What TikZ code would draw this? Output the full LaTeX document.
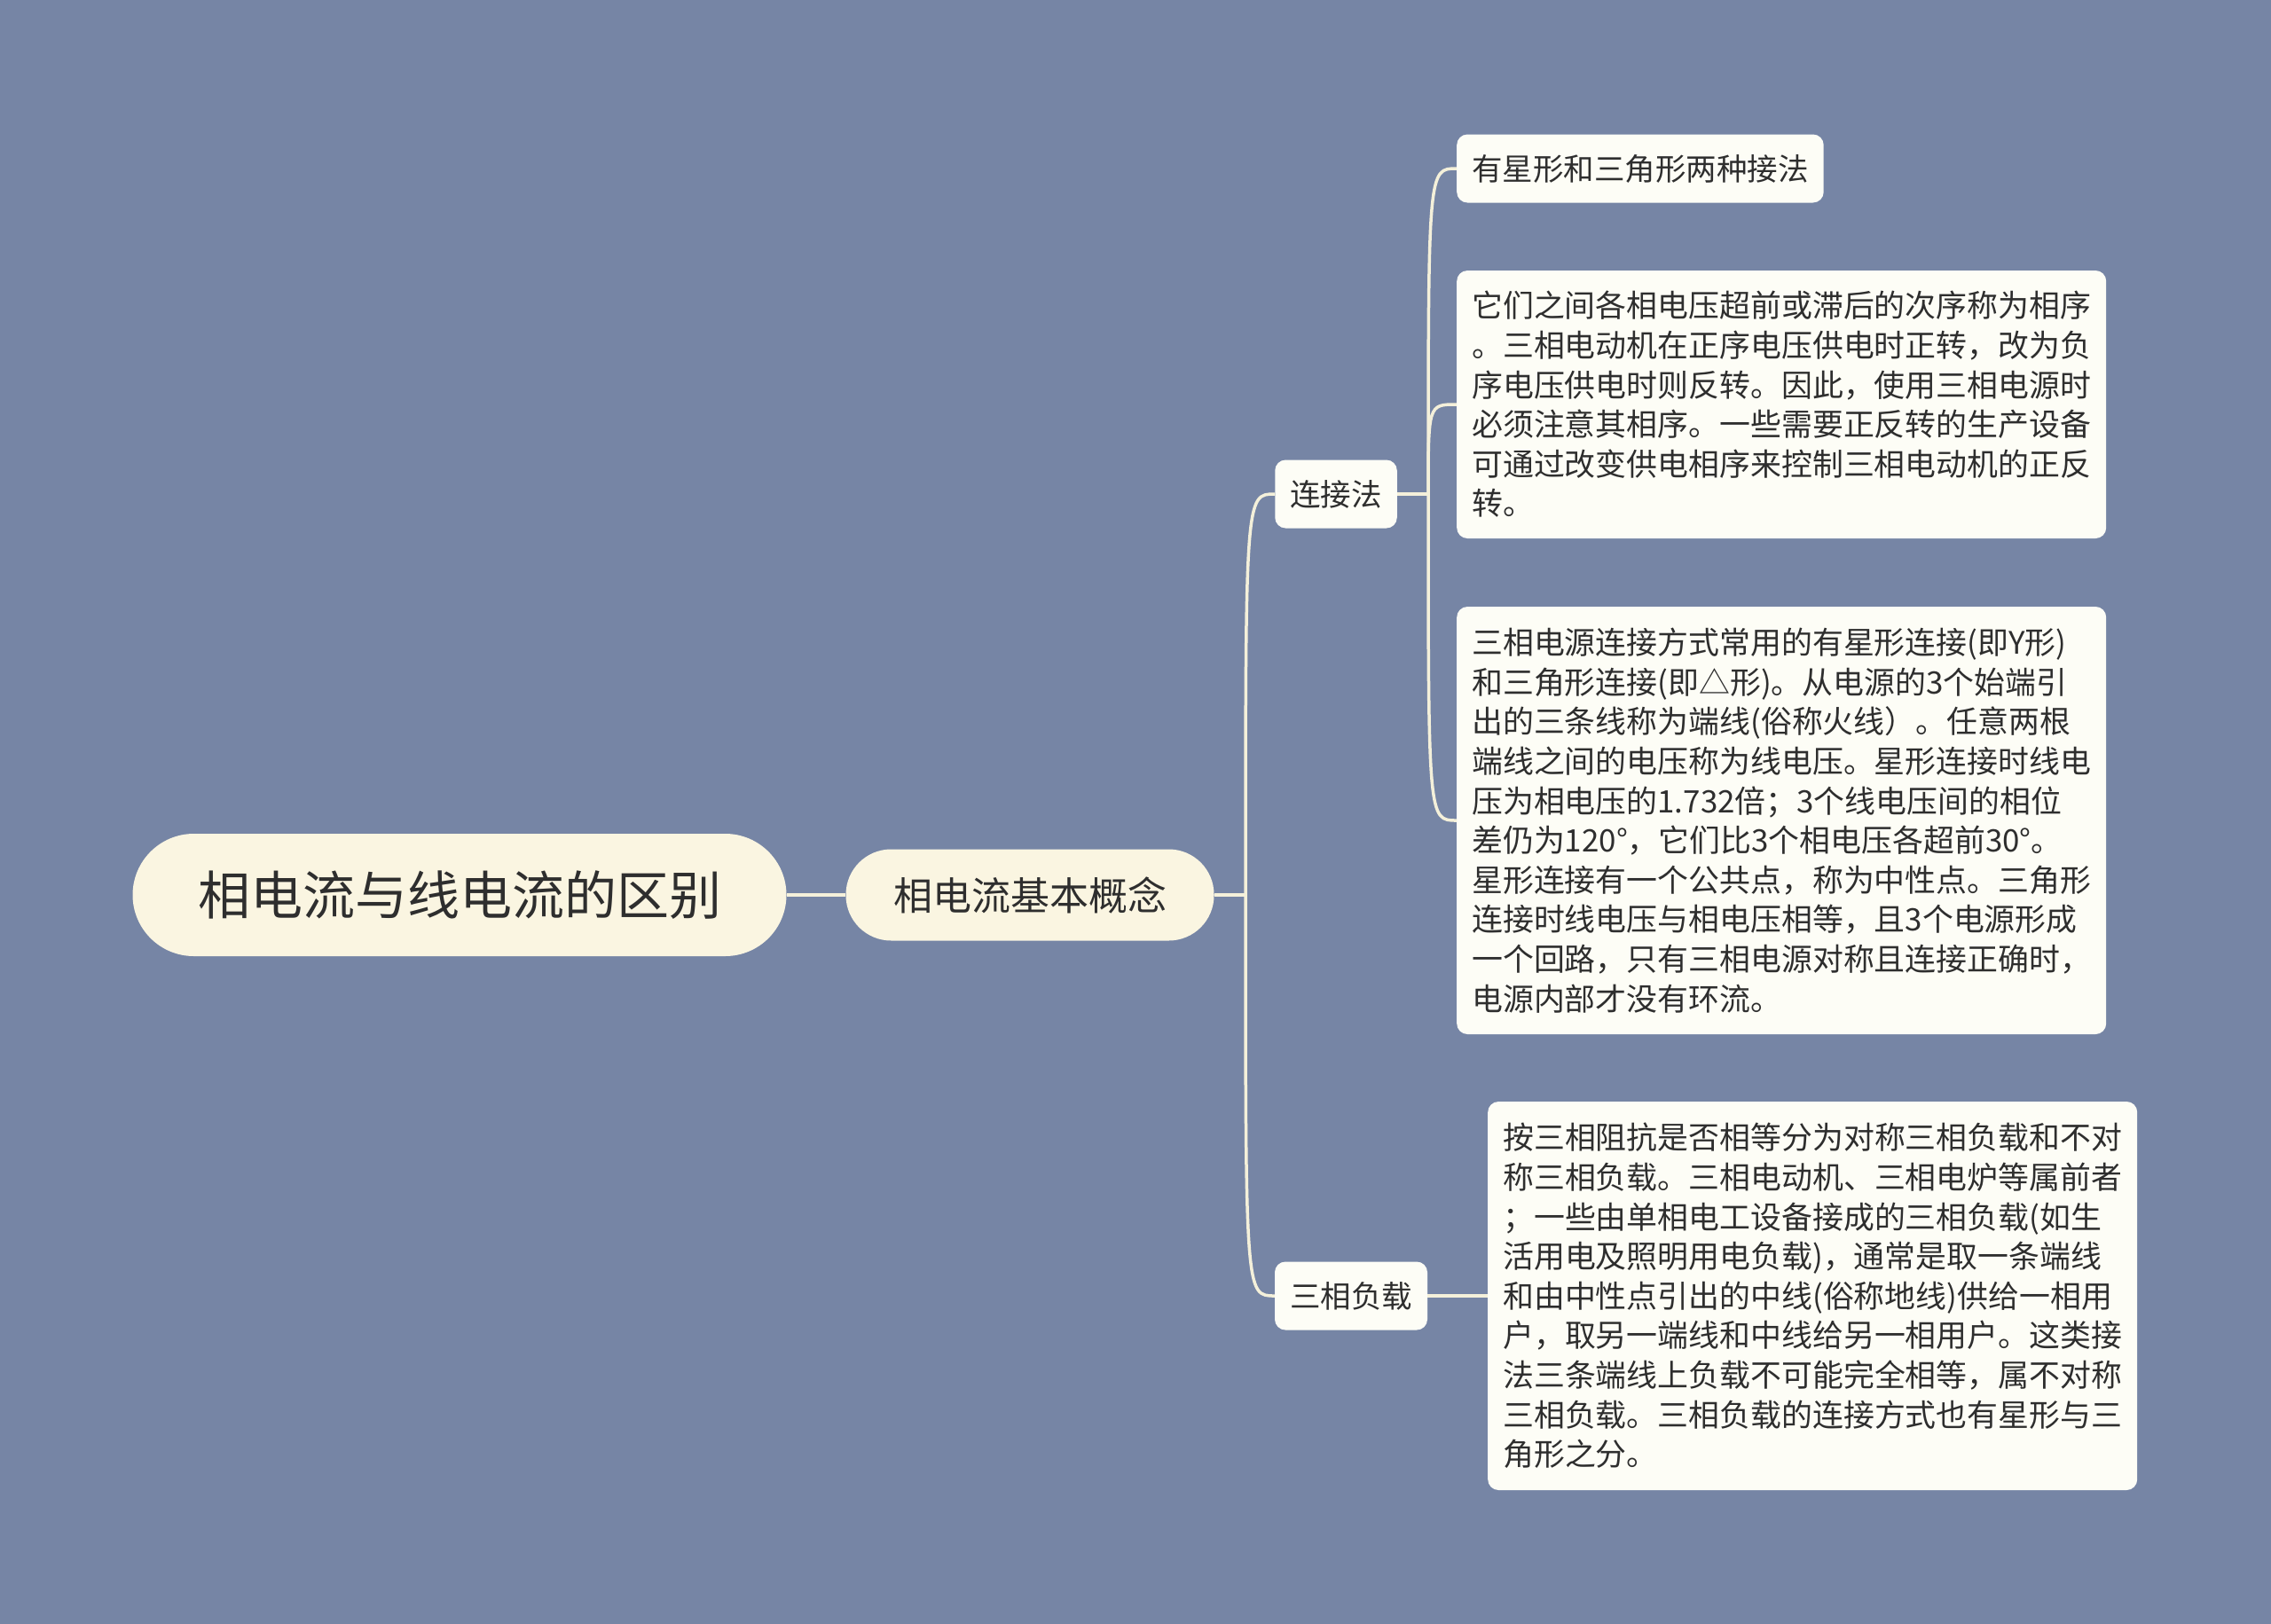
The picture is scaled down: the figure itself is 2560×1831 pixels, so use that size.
\documentclass[tikz,border=0pt]{standalone}
\usepackage{fontspec}
\setmainfont{Noto Sans CJK SC}
\usepackage{xcolor}
\definecolor{mapbg}{HTML}{7685A5}
\definecolor{mapcream}{HTML}{FAF5E1}
\definecolor{mapleaf}{HTML}{FDFDF6}
\definecolor{mapline}{HTML}{F4F0DA}
\definecolor{maptext}{HTML}{2E2E2E}
\tikzset{
	every node/.style={
		align=center,
		text=maptext,
	},
	root-node/.style={
		rectangle,
		rounded corners=69pt,
		fill=mapcream,
		minimum width=737pt,
		minimum height=138pt,
		font=\fontsize{59}{70}\selectfont,
	},
	topic-node/.style={
		rectangle,
		rounded corners=51pt,
		fill=mapcream,
		minimum width=415pt,
		minimum height=103pt,
		font=\fontsize{44}{52}\selectfont,
	},
	sub-node/.style={
		rectangle,
		rounded corners=12pt,
		fill=mapleaf,
		inner xsep=17pt,
		minimum height=77pt,
		font=\fontsize{34.5}{44.6}\selectfont,
	},
	leaf-node/.style={
		sub-node,
		anchor=west,
		align=left,
		inner ysep=0pt,
	},
	leaf-wide/.style={
		leaf-node,
		text width=698pt,
		font=\fontsize{34.9}{44.6}\selectfont,
	},
	edge-style/.style={draw=mapline, line width=3.5pt},
}
\begin{document}
\begin{tikzpicture}[x=1pt,y=-1pt]
	\fill[mapbg] (0,0) rectangle (2560,1831);
	\node (root) [root-node] at (518,1009) {相电流与线电流的区别};
	\node (basic) [topic-node] at (1161,1009) {相电流基本概念};
	\node (conn) [sub-node] at (1506,557) {连接法};
	\node (load) [sub-node] at (1523,1461) {三相负载};
	\node (way) [leaf-node] at (1642,190) {有星形和三角形两种接法};
	\node (seq) [leaf-wide, minimum height=302pt] at (1642,456) {它们之间各相电压超前或滞后的次序称为相序\\。三相电动机在正序电压供电时正转，改为负\\序电压供电时则反转。因此，使用三相电源时\\必须注意其相序。一些需要正反转的生产设备\\可通过改变供电相序来控制三相电动机的正反\\转。};
	\node (src) [leaf-wide, minimum height=482pt] at (1642,925) {三相电源连接方式常用的有星形连接(即Y形)\\和三角形连接(即△形)。从电源的3个始端引\\出的三条线称为端线(俗称火线）。任意两根\\端线之间的电压称为线电压。星形连接时线电\\压为相电压的1.732倍；3个线电压间的相位\\差仍为120°，它们比3个相电压各超前30°。\\星形连接有一个公共点，称为中性点。三角形\\连接时线电压与相电压相等，且3个电源形成\\一个回路，只有三相电源对称且连接正确时，\\电源内部才没有环流。};
	\node (cls) [leaf-wide, minimum height=438pt] at (1677,1461) {按三相阻抗是否相等分为对称三相负载和不对\\称三相负载。三相电动机、三相电炉等属前者\\；一些由单相电工设备接成的三相负载(如生\\活用电及照明用电负载)，通常是取一条端线\\和由中性点引出的中线(俗称地线)供给一相用\\户，取另一端线和中线给另一相用户。这类接\\法三条端线上负载不可能完全相等，属不对称\\三相负载。三相负载的连接方式也有星形与三\\角形之分。};
	\coordinate (trunk) at (1404,1009);
	\coordinate (fork) at (1610,557);
	\draw[edge-style, line width=4pt] (root) -- (basic);
	\draw[edge-style] (basic) -- (trunk);
	\draw[edge-style] (trunk) .. controls (trunk |- conn.west) .. (conn.west);
	\draw[edge-style] (trunk) .. controls (trunk |- load.west) .. (load.west);
	\draw[edge-style] (conn) -- (fork);
	\draw[edge-style] (fork) .. controls (fork |- way.west) .. (way.west);
	\draw[edge-style] (fork) .. controls (fork |- seq.west) .. (seq.west);
	\draw[edge-style] (fork) .. controls (fork |- src.west) .. (src.west);
	\draw[edge-style] (load) -- (cls);
\end{tikzpicture}
\end{document}
